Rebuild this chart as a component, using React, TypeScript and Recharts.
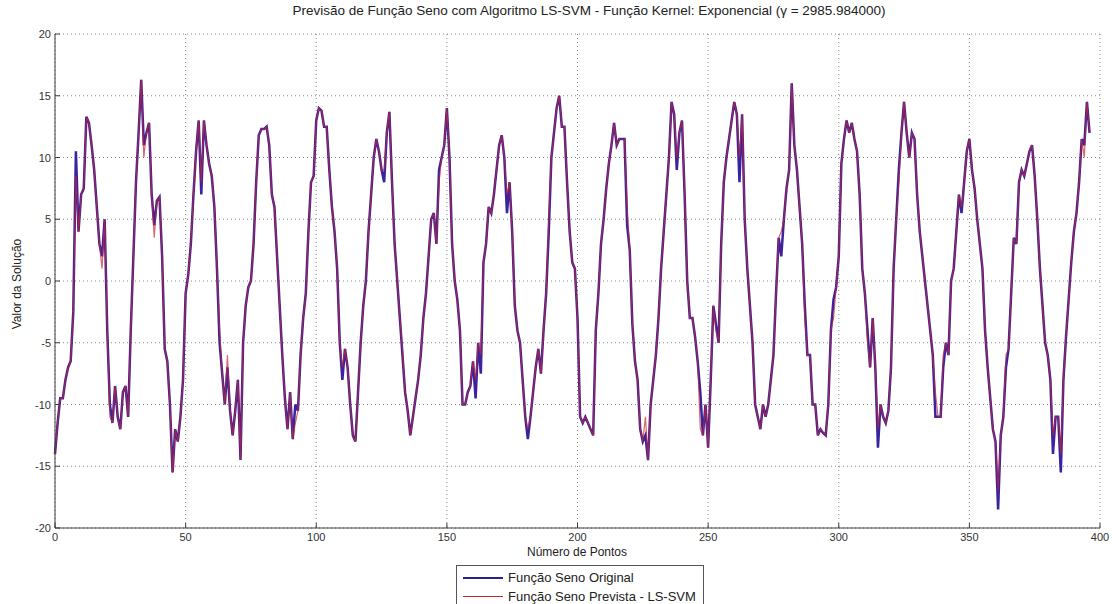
import React from 'react';
import { LineChart, Line, XAxis, YAxis, CartesianGrid } from 'recharts';

// Função seno original, one value per point index (0..396)
const original = [
  -14, -11.5, -9.5, -9.5, -8, -7, -6.5, -2.5, 10.5, 4,
  7, 7.5, 13.3, 12.8, 11, 9, 6, 3, 2, 5,
  -4, -10, -11.5, -8.5, -11, -12, -9, -8.5, -11, -4,
  2, 8, 12, 16.3, 11, 12, 12.8, 7, 4.5, 6.5,
  6.8, 2, -5.5, -6.5, -10, -15.5, -12, -13, -11, -8,
  -1, 0.5, 3, 7, 10.5, 13, 7, 13, 11, 9.5,
  8.5, 6, 1, -5, -7.5, -10, -7, -10.5, -12.5, -10.5,
  -8, -14.5, -5, -2, -0.5, 0, 3, 8, 11.8, 12.3,
  12.3, 12.5, 11, 7, 6, 2, -2, -6, -9.5, -12,
  -9, -12.8, -10, -10.5, -6, -3, -1, 4, 8, 8.5,
  13, 14, 13.8, 12.5, 12.5, 9, 6, 4, 1, -5,
  -8, -5.5, -7, -10, -12.5, -13, -9, -5, -2, 0,
  4, 7, 10, 11.5, 10.5, 9, 8, 12, 13.7, 8,
  3, 0, -3, -6, -9, -10.5, -12.5, -11, -9.5, -8,
  -6, -3, -1, 2, 5, 5.5, 3, 9, 10, 11,
  14, 10, 3, 0, -1.5, -4, -10, -10, -9, -8.5,
  -6.5, -9.5, -5, -7.5, 1.5, 3, 6, 5.5, 7, 9,
  11, 11.8, 10, 5.5, 8, 4, -2, -4, -5, -8,
  -11, -12.8, -11, -9, -7, -5.5, -7.5, -4, -1, 4,
  10, 12, 14, 15, 12.5, 12.5, 8, 4, 1.5, 1,
  -3, -11, -11.5, -11, -11.5, -12, -12.5, -4, -1, 3,
  5, 7.5, 9.5, 11, 12.8, 11, 11.5, 11.5, 11.5, 4.5,
  2.5, -3.5, -6.5, -8, -12, -13, -12.5, -14.5, -10, -8,
  -6, -3, 1, 4, 7, 10, 14.5, 13.5, 9, 12,
  13, 7, 0, -3, -3, -4.5, -6.5, -9, -12.5, -10,
  -13.5, -8, -2, -3.5, -5, 3, 8, 10, 11.5, 13,
  14.5, 13.5, 8, 13.5, 5, 1, -2, -5, -10, -11,
  -12, -10, -11, -10, -8, -6, -1, 3.5, 2, 5,
  7.5, 9, 16, 11, 9, 6, 3, -2, -6, -6,
  -10, -10, -12.5, -12, -12.3, -12.5, -10, -4, -1.5, -0.5,
  2, 9.5, 11.5, 13, 12, 12.8, 11.5, 10.5, 7, 1,
  -1, -4, -7, -3, -7, -13.5, -10, -11, -11.5, -10.5,
  -7, 1, 5, 9, 12, 14.5, 12, 10, 12, 11.5,
  7, 4, 2, 0, -2, -4, -6, -11, -11, -11,
  -7, -5, -6, 0, 1, 4, 7, 5.5, 8, 10.5,
  11.5, 9, 7.5, 5, 3, 1, -4, -7, -9.5, -12,
  -13, -18.5, -12.5, -11, -7, -5.5, -1, 3.5, 3, 8,
  9, 8.5, 9.5, 10.5, 11, 8.5, 5, 1, -2, -5,
  -6, -8, -14, -11, -11, -15.5, -8, -4.5, -1.5, 1.5,
  4, 5.5, 8, 11.5, 11, 14.5, 12,
];

// Função seno prevista (LS-SVM): same as original except where the red trace separates
const predictedDiffs: Record<number, number> = {
  8: 8.5, 18: 1, 21: -11, 34: 10, 38: 3.5, 56: 8, 63: -4, 66: -6, 92: -11.5,
  110: -7, 126: 9, 133: -5.5, 147: 8, 161: -8, 163: -6, 173: 7, 181: -12,
  189: 5, 219: 6, 226: -11, 238: 10, 247: -12, 253: -4, 262: 10, 278: 4,
  287: -3, 298: -3, 311: -5, 315: -12, 323: 8, 337: -9, 340: -6, 347: 6,
  361: -17, 364: -6, 382: -12.5, 385: -14, 394: 10,
};

const xTicks = [0, 50, 100, 150, 200, 250, 300, 350, 400];
const yTicks = [-20, -15, -10, -5, 0, 5, 10, 15, 20];

const seriesNames = ['Função Seno Original', 'Função Seno Prevista - LS-SVM'];
const seriesColors = ['#2a1f96', '#c8262e'];

const data = original.map((v, i) => ({
  ponto: i,
  original: v,
  prevista: predictedDiffs[i] ?? v,
}));

const font = '"Liberation Sans", Arial, sans-serif';
const axisColor = '#3c3c3c';

const YTick = (props: any) => {
  const { x, y, payload } = props;
  return (
    <g>
      <line x1={x} x2={x + 5} y1={y} y2={y} stroke={axisColor} />
      <text x={x - 4} y={y} dy={4} textAnchor="end" fontSize={11} fill="#333" fontFamily={font}>
        {payload.value}
      </text>
    </g>
  );
};

const XTick = (props: any) => {
  const { x, y, payload } = props;
  return (
    <g>
      <line x1={x} x2={x} y1={y} y2={y - 5} stroke={axisColor} />
      <text x={x} y={y + 13} textAnchor="middle" fontSize={11} fill="#333" fontFamily={font}>
        {payload.value}
      </text>
    </g>
  );
};

export default function App() {
  return (
    <div style={{ position: 'absolute', left: 0, top: 0, width: 1115, height: 604, background: '#fff', overflow: 'hidden', fontFamily: font }}>
      <div style={{ position: 'absolute', left: 89, top: 3, width: 1000, textAlign: 'center', fontSize: 13.5, color: '#222' }}>
        Previsão de Função Seno com Algoritmo LS-SVM - Função Kernel: Exponencial (γ = 2985.984000)
      </div>
      <LineChart width={1115} height={604} data={data} margin={{ top: 34, right: 15, left: 0, bottom: 46 }}>
        <CartesianGrid stroke="#8a8a8a" strokeDasharray="1 3" />
        <XAxis
          dataKey="ponto"
          type="number"
          domain={[0, 400]}
          ticks={xTicks}
          height={30}
          tickSize={0}
          tickMargin={0}
          tick={<XTick />}
          stroke={axisColor}
          interval={0}
        />
        <YAxis
          type="number"
          domain={[-20, 20]}
          ticks={yTicks}
          width={55}
          tickSize={0}
          tickMargin={0}
          tick={<YTick />}
          stroke={axisColor}
          interval={0}
        />
        <Line dataKey="original" stroke="#3a22a0" strokeWidth={2.5} dot={false} isAnimationActive={false} />
        <Line dataKey="prevista" stroke={seriesColors[1]} strokeOpacity={0.7} strokeWidth={1.2} dot={false} isAnimationActive={false} />
      </LineChart>
      <div style={{ position: 'absolute', left: 577, top: 545, transform: 'translateX(-50%)', fontSize: 12, color: '#222', whiteSpace: 'nowrap' }}>
        Número de Pontos
      </div>
      <div style={{ position: 'absolute', left: 17, top: 284, transform: 'translate(-50%, -50%) rotate(-90deg)', fontSize: 12, color: '#222', whiteSpace: 'nowrap' }}>
        Valor da Solução
      </div>
      <div style={{ position: 'absolute', left: 456, top: 565, width: 246, height: 50, border: '1px solid #555', background: '#fff', fontSize: 13, color: '#222' }}>
        {seriesNames.map((name, i) => (
          <div key={name} style={{ position: 'absolute', left: 6, top: 4 + i * 19, display: 'flex', alignItems: 'center', whiteSpace: 'nowrap' }}>
            <span style={{ display: 'inline-block', width: 40, height: 0, borderTop: `${i === 0 ? 2 : 1}px solid ${seriesColors[i]}`, marginRight: 5 }} />
            {name}
          </div>
        ))}
      </div>
    </div>
  );
}
